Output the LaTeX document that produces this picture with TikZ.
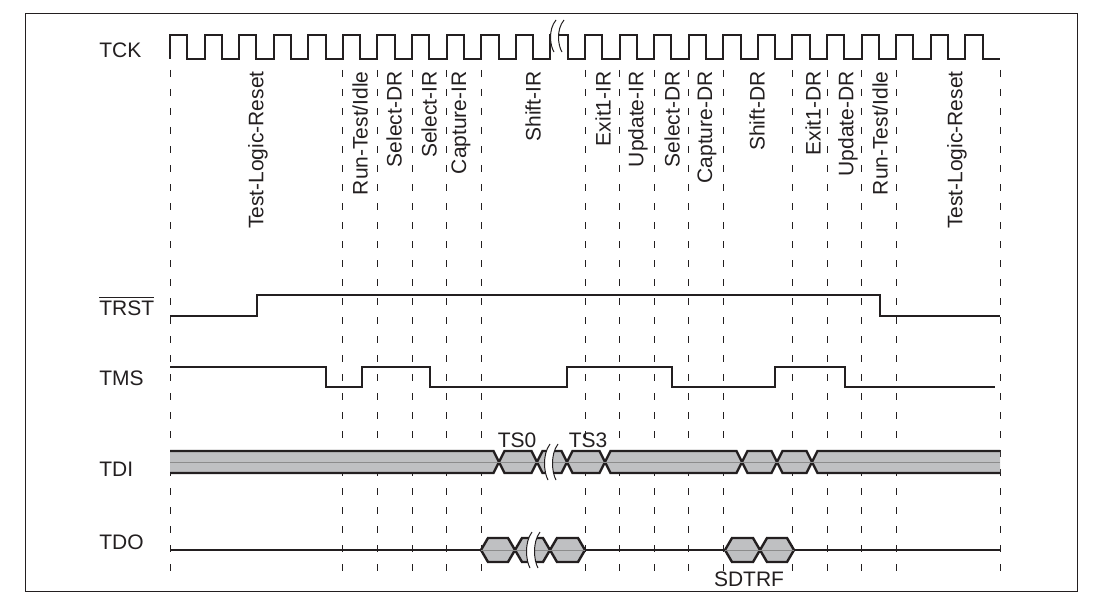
\documentclass[tikz,border=0pt]{standalone}
\usepackage{fontspec}
\setmainfont{Liberation Sans}

\definecolor{inkblack}{RGB}{35,31,32}
\definecolor{busgray}{RGB}{191,192,194}

% break in a waveform: #1 centre x, #2 top y, #3 bottom y
\newcommand{\sigbreak}[3]{%
	\fill[white] ({#1-1},#2) .. controls ({#1-9},{#2+0.3*(#3-#2)}) and ({#1-7},{#3-0.2*(#3-#2)}) .. ({#1-3},#3) -- ({#1+5},#3) .. controls ({#1+1},{#3-0.2*(#3-#2)}) and ({#1-1},{#2+0.3*(#3-#2)}) .. ({#1+7},#2) -- cycle;
	\draw[brk] ({#1-1},#2) .. controls ({#1-9},{#2+0.3*(#3-#2)}) and ({#1-7},{#3-0.2*(#3-#2)}) .. ({#1-3},#3);
	\draw[brk] ({#1+7},#2) .. controls ({#1-1},{#2+0.3*(#3-#2)}) and ({#1+1},{#3-0.2*(#3-#2)}) .. ({#1+5},#3);
}

\begin{document}
\begin{tikzpicture}[x=0.5pt, y=-0.5pt, font=\fontsize{10.5}{12.6}\selectfont,
	signal/.style={draw=inkblack, line width=1.25pt},
	clock/.style={draw=inkblack, line width=1pt},
	wire/.style={draw=inkblack, line width=1pt},
	bus/.style={draw=inkblack, fill=busgray, line width=1.2pt},
	midline/.style={draw=black!45, line width=0.35pt},
	brk/.style={draw=inkblack, line width=0.5pt},
	tick/.style={draw=inkblack, line width=0.5pt, dash pattern={on 3.5pt off 6pt}},
	sig label/.style={anchor=base west, inner sep=0pt, text=inkblack},
	state label/.style={rotate=90, anchor=east, inner sep=0pt, text=inkblack}]
	\useasboundingbox (0,0) rectangle (1102,610);
	\draw[inkblack, line width=0.5pt] (25,14) rectangle (1077,591);
	% Clock edges and state boundaries:
	\foreach \k in {0,5,6,7,8,9,12,13,14,15,16,18,19,20,21,24}
		\draw[tick] ({170+34.583*\k},70) -- ++(0,502);
	\draw[clock] (170,59) \foreach \k in {1,...,24} { -- ++(0,-24) -- ++(17.29,0) -- ++(0,24) -- ++(17.29,0) };
	\sigbreak{557}{20}{52}
	% Signal names:
	\node[sig label] (tck) at (99,58) {TCK};
	\node[sig label] (trst) at (99,315) {$\overline{\mbox{TRST}}$};
	\node[sig label] (tms) at (99,385) {TMS};
	\node[sig label] (tdi) at (99,476) {TDI};
	\node[sig label] (tdo) at (99,549) {TDO};
	% TAP states:
	\node[state label] (tlr1) at (258,71) {Test-Logic-Reset};
	\node[state label] (rti1) at (360,71) {Run-Test/Idle};
	\node[state label] (seldr1) at (394,71) {Select-DR};
	\node[state label] (selir) at (429,71) {Select-IR};
	\node[state label] (capir) at (461,71) {Capture-IR};
	\node[state label] (shiftir) at (533,71) {Shift-IR};
	\node[state label] (exitir) at (603,71) {Exit1-IR};
	\node[state label] (updir) at (638,71) {Update-IR};
	\node[state label] (seldr2) at (672,71) {Select-DR};
	\node[state label] (capdr) at (707,71) {Capture-DR};
	\node[state label] (shiftdr) at (757,71) {Shift-DR};
	\node[state label] (exitdr) at (813,71) {Exit1-DR};
	\node[state label] (upddr) at (848,71) {Update-DR};
	\node[state label] (rti2) at (880,71) {Run-Test/Idle};
	\node[state label] (tlr2) at (957,71) {Test-Logic-Reset};
	% TRST and TMS:
	\draw[signal] (170,316) -- (257,316) -- (257,295) -- (880,295) -- (880,316) -- (1000,316);
	\draw[signal] (170,367) -- (326,367) -- (326,387) -- (362,387) -- (362,367) -- (430,367) -- (430,387) -- (567,387) -- (567,367) -- (672,367) -- (672,387) -- (775,387) -- (775,367) -- (845,367) -- (845,387) -- (995,387);
	% TDI:
	\filldraw[bus] (170,451) -- (493.5,451) -- (499,462) -- (493.5,473) -- (170,473);
	\filldraw[bus] (499,462) -- (504.5,451) -- (531.5,451) -- (537,462) -- (531.5,473) -- (504.5,473) -- cycle;
	\filldraw[bus] (537,462) -- (542.5,451) -- (561.5,451) -- (567,462) -- (561.5,473) -- (542.5,473) -- cycle;
	\filldraw[bus] (567,462) -- (572.5,451) -- (599.5,451) -- (605,462) -- (599.5,473) -- (572.5,473) -- cycle;
	\filldraw[bus] (605,462) -- (610.5,451) -- (736.5,451) -- (742,462) -- (736.5,473) -- (610.5,473) -- cycle;
	\filldraw[bus] (742,462) -- (747.5,451) -- (771.5,451) -- (777,462) -- (771.5,473) -- (747.5,473) -- cycle;
	\filldraw[bus] (777,462) -- (782.5,451) -- (806.5,451) -- (812,462) -- (806.5,473) -- (782.5,473) -- cycle;
	\filldraw[bus] (1000,451) -- (817.5,451) -- (812,462) -- (817.5,473) -- (1000,473);
	\draw[midline] (170,462) -- (1000,462);
	\sigbreak{551}{444}{480}
	\node[inner sep=0pt, anchor=base, text=inkblack] (ts0) at (517,447) {TS0};
	\node[inner sep=0pt, anchor=base, text=inkblack] (ts3) at (588,447) {TS3};
	% TDO:
	\draw[wire] (170,550) -- (481,550);
	\draw[wire] (585,550) -- (725,550);
	\draw[wire] (794,550) -- (1000,550);
	\filldraw[bus] (481,550) -- (488,538) -- (508,538) -- (515,550) -- (508,562) -- (488,562) -- cycle;
	\filldraw[bus] (515,550) -- (522,538) -- (543,538) -- (550,550) -- (543,562) -- (522,562) -- cycle;
	\filldraw[bus] (550,550) -- (557,538) -- (578,538) -- (585,550) -- (578,562) -- (557,562) -- cycle;
	\filldraw[bus] (725,550) -- (732,538) -- (753,538) -- (760,550) -- (753,562) -- (732,562) -- cycle;
	\filldraw[bus] (760,550) -- (767,538) -- (787,538) -- (794,550) -- (787,562) -- (767,562) -- cycle;
	\draw[midline] (481,550) -- (585,550);
	\draw[midline] (725,550) -- (794,550);
	\sigbreak{533}{532}{568}
	\node[inner sep=0pt, anchor=base, text=inkblack] (sdtrf) at (749,586) {SDTRF};
\end{tikzpicture}
\end{document}
